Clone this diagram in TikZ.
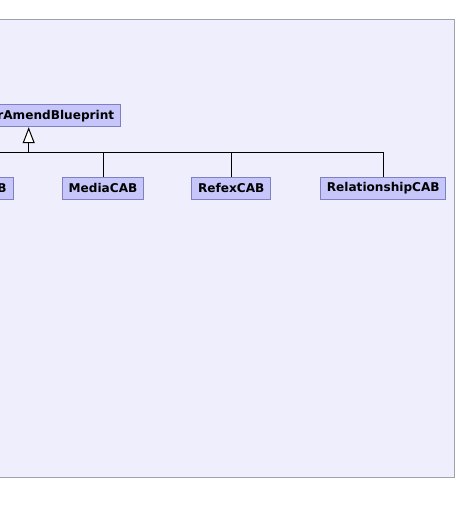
\documentclass[tikz,border=0pt]{standalone}
\usepackage{fontspec}
\setmainfont{DejaVu Sans}
\usetikzlibrary{arrows.meta}
\definecolor{panelbg}{RGB}{238,238,252}
\definecolor{panelline}{RGB}{160,160,176}
\definecolor{boxfill}{RGB}{198,198,250}
\definecolor{boxline}{RGB}{128,128,192}
\tikzset{
  cls/.style={draw=boxline, fill=boxfill, line width=1pt, inner xsep=6.3pt, inner ysep=0pt,
    minimum height=22pt, font=\fontsize{12.1pt}{14pt}\selectfont\bfseries},
  link/.style={draw=black, line width=1pt},
  inherit/.style={link, -{Triangle[open, length=16pt, width=12pt, fill=white]}}
}
\begin{document}
\begin{tikzpicture}[x=1pt, y=-1pt]
\useasboundingbox (0,0) rectangle (457,515);
\begin{scope}
\clip (0,0) rectangle (457,515);
\draw[fill=panelbg, draw=panelline, line width=1pt] (-10,19.5) rectangle (454.5,477);
\node[cls, anchor=east] (top) at (121,115.7) {rAmendBlueprint};
\node[cls, anchor=east] (bcab) at (13.5,188.3) {B};
\node[cls] (media) at (103,188.3) {MediaCAB};
\node[cls] (refex) at (231.3,188.3) {RefexCAB};
\node[cls] (rel) at (383.3,188.3) {RelationshipCAB};
\coordinate (left) at (-10,152.3);
\coordinate (join) at (28.7,152.3);
\coordinate (right) at (383.3,152.3);
\draw[link] (left) -- (right) -- (rel.north);
\draw[link] (media.north) -- (media.north |- left);
\draw[link] (refex.north) -- (refex.north |- left);
\draw[inherit] (join) -- (join |- top.south);
\end{scope}
\end{tikzpicture}
\end{document}
